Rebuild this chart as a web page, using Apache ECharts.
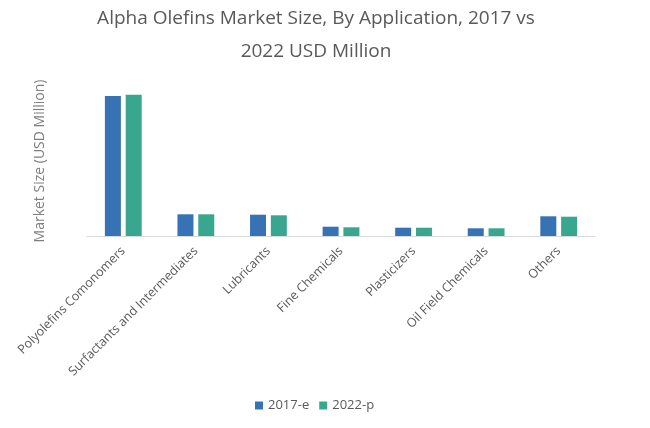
<!DOCTYPE html>
<html><head><meta charset="utf-8">
<script src="https://cdn.jsdelivr.net/npm/echarts@6/dist/echarts.min.js"></script>
<style>html,body{margin:0;padding:0;background:#fff}#c{width:650px;height:428px}</style>
</head><body><div id="c"></div>
<script>
const categories = ["Polyolefins Comonomers","Surfactants and Intermediates","Lubricants","Fine Chemicals","Plasticizers","Oil Field Chemicals","Others"];
const values2017 = [2800, 434, 426, 186, 166, 154, 394];
const values2022 = [2826, 434, 414, 174, 166, 154, 386];
const seriesNames = ["2017-e","2022-p"];
const chart = echarts.init(document.getElementById('c'));
const font = "'Open Sans', 'Liberation Sans', sans-serif";
chart.setOption({
  animation:false,
  title:{text:"Alpha Olefins Market Size, By Application, 2017 vs\n2022 USD Million",left:311,textAlign:'center',top:-3,
    textStyle:{fontFamily:font,fontSize:19,fontWeight:'normal',color:'#595959',lineHeight:33}},
  legend:{data:seriesNames,top:394,left:250,itemWidth:8,itemHeight:8,itemGap:10,icon:'rect',
    textStyle:{fontFamily:font,fontSize:13,color:'#595959'}},
  grid:{left:87,right:55,top:76,bottom:192},
  xAxis:{type:'category',data:categories,
    axisLine:{lineStyle:{color:'#d9d9d9'}},axisTick:{length:5,lineStyle:{color:'#d9d9d9'}},
    axisLabel:{rotate:45,interval:0,fontFamily:font,fontSize:12.5,color:'#595959',margin:13}},
  yAxis:{type:'value',min:0,max:3200,name:"Market Size (USD Million)",nameLocation:'middle',nameGap:40,
    nameTextStyle:{fontFamily:font,fontSize:14,color:'#7f7f7f',padding:[0,10,0,0]},
    axisLine:{show:false},axisTick:{show:false},axisLabel:{show:false},splitLine:{show:false}},
  series:[
    {name:seriesNames[0],type:'bar',data:values2017,barWidth:16,barGap:'30%',itemStyle:{color:'#3672b4'}},
    {name:seriesNames[1],type:'bar',data:values2022,barWidth:16,barGap:'30%',itemStyle:{color:'#39a78f'}}
  ]
});
</script></body></html>
